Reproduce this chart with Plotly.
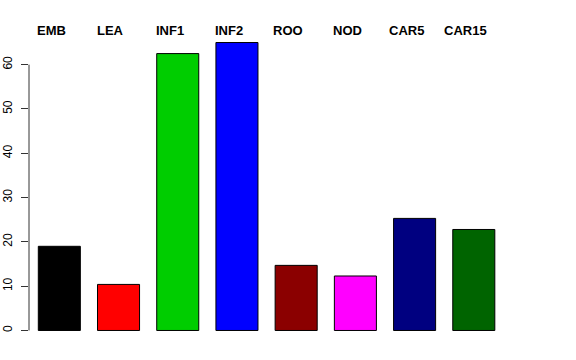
import plotly.graph_objects as go

categories = ["EMB", "LEA", "INF1", "INF2", "ROO", "NOD", "CAR5", "CAR15"]
values = [19.0, 10.4, 62.5, 65.0, 14.7, 12.3, 25.3, 22.8]
colors = ["#000000", "#FF0000", "#00CD00", "#0000FF", "#8B0000", "#FF00FF", "#000080", "#006400"]
y_ticks = [0, 10, 20, 30, 40, 50, 60]

xpos = list(range(len(categories)))

fig = go.Figure()
fig.add_trace(go.Bar(
    x=xpos, y=values, width=0.71,
    marker=dict(color=colors, line=dict(color="#000000", width=1)),
    showlegend=False, hoverinfo="skip",
))

for i, c in enumerate(categories):
    fig.add_annotation(
        x=i, y=1, xref="x", yref="paper", text="<b>%s</b>" % c,
        showarrow=False, xanchor="center", yanchor="middle", xshift=-8, yshift=1,
        font=dict(family="Liberation Sans, Arial, sans-serif", size=13, color="#000000"),
    )

fig.add_shape(type="line", xref="paper", yref="y", x0=0, x1=0, y0=y_ticks[0], y1=y_ticks[-1],
              line=dict(color="#333333", width=1))

fig.update_layout(
    width=576, height=360,
    margin=dict(l=29, r=72, t=31, b=18, autoexpand=False),
    paper_bgcolor="white", plot_bgcolor="white",
    font=dict(family="Liberation Sans, Arial, sans-serif", size=12, color="#000000"),
    xaxis=dict(range=[-0.512, 7.51], showticklabels=False, showgrid=False, zeroline=False,
               showline=False, ticks="", automargin=False),
    yaxis=dict(range=[-2.6, 67.6], tickvals=y_ticks, ticktext=[str(v) for v in y_ticks],
               tickangle=-90, ticks="outside", ticklen=7, tickcolor="#333333", tickwidth=1,
               showgrid=False, zeroline=False, showline=False, ticklabelstandoff=4,
               automargin=False, tickfont=dict(size=12, color="#000000")),
)

fig.write_html("out.html", config={"displayModeBar": False, "staticPlot": True},
               post_script="document.body.style.margin='0';document.body.style.overflow='hidden';")
